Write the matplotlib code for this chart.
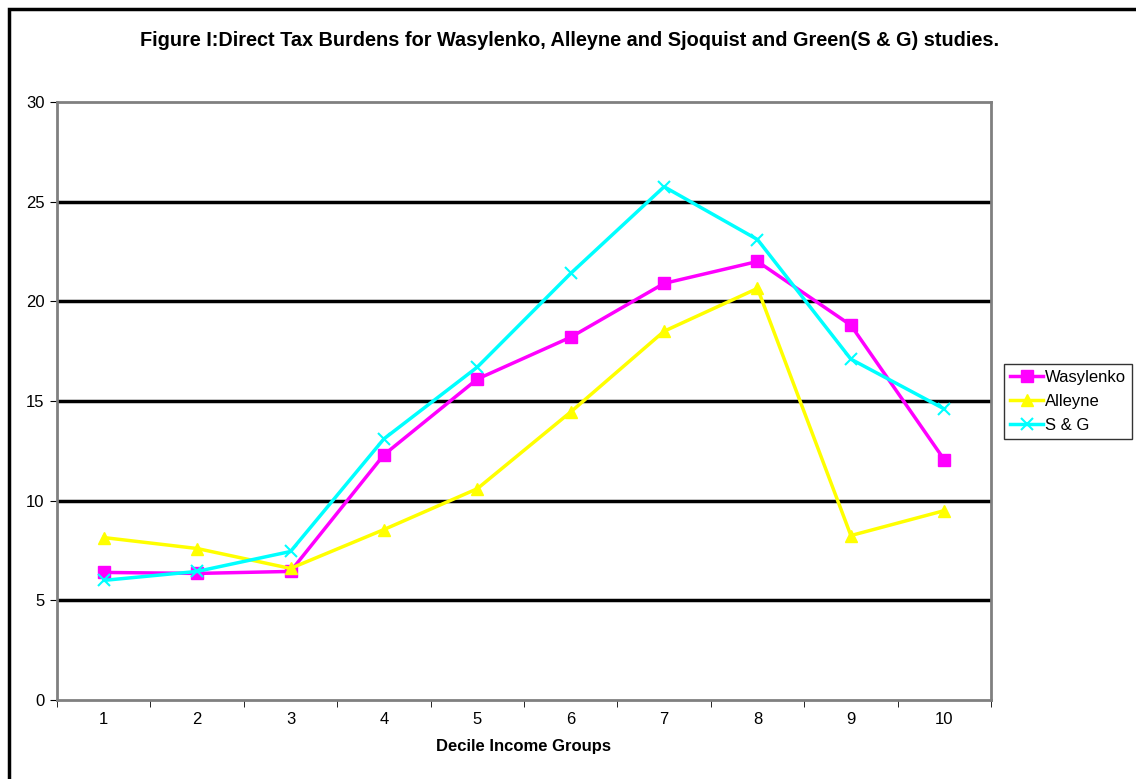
import matplotlib
matplotlib.use("Agg")
import matplotlib.pyplot as plt
from matplotlib.patches import Rectangle

plt.rcParams['font.family'] = ['Liberation Sans', 'DejaVu Sans']

deciles = [1, 2, 3, 4, 5, 6, 7, 8, 9, 10]
wasylenko = [6.4, 6.35, 6.45, 12.3, 16.1, 18.2, 20.9, 22.0, 18.8, 12.05]
alleyne = [8.15, 7.6, 6.6, 8.55, 10.6, 14.45, 18.5, 20.65, 8.25, 9.5]
s_and_g = [6.0, 6.45, 7.45, 13.1, 16.7, 21.4, 25.75, 23.1, 17.1, 14.6]

W, H = 1136, 779
fig = plt.figure(figsize=(W / 100, H / 100), dpi=100)
ax = fig.add_axes([57 / W, 1 - 700 / H, (991 - 57) / W, (700 - 102) / H])

# outer chart border (right/bottom run off the image)
fig.patches.append(Rectangle((9 / W, -0.05), 1.2, 1 - 9 / H + 0.05, transform=fig.transFigure,
                             fill=False, edgecolor='black', linewidth=2.5))

for y in [5, 10, 15, 20, 25]:
    ax.axhline(y, color='black', linewidth=2.5, zorder=1)

ax.plot(deciles, wasylenko, color='#ff00ff', linewidth=2.5, marker='s', markersize=8,
        label='Wasylenko', zorder=3)
ax.plot(deciles, alleyne, color='#ffff00', linewidth=2.5, marker='^', markersize=9,
        label='Alleyne', zorder=3)
ax.plot(deciles, s_and_g, color='#00ffff', linewidth=2.5, marker='x', markersize=9,
        markeredgewidth=1.5, label='S & G', zorder=4)

ax.set_xlim(0.5, 10.5)
ax.set_ylim(0, 30)
ax.set_yticks([0, 5, 10, 15, 20, 25, 30])
ax.set_xticks(deciles)
ax.set_xticks([x + 0.5 for x in range(0, 11)], minor=True)
ax.tick_params(axis='x', which='major', length=0, pad=9, labelsize=12)
ax.tick_params(axis='x', which='minor', length=5, direction='out', color='black')
ax.tick_params(axis='y', length=5, direction='out', labelsize=12, color='black', pad=4)

for s in ax.spines.values():
    s.set_color('#808080')
    s.set_linewidth(2)

ax.set_xlabel('Decile Income Groups', fontsize=12, fontweight='bold', labelpad=8)
fig.text(0.5 + 2 / W, 1 - 40 / H,
         'Figure I:Direct Tax Burdens for Wasylenko, Alleyne and Sjoquist and Green(S & G) studies.',
         ha='center', va='center', fontsize=14.3, fontweight='bold')

leg = fig.legend(loc='upper left', bbox_to_anchor=(1004 / W, 1 - 364 / H), fontsize=12,
                 frameon=True, fancybox=False, edgecolor='black', handlelength=2.0,
                 handletextpad=0.1, borderpad=0.35, labelspacing=0.55, borderaxespad=0)
leg.get_frame().set_linewidth(1)

fig.savefig('out.png', dpi=100)
